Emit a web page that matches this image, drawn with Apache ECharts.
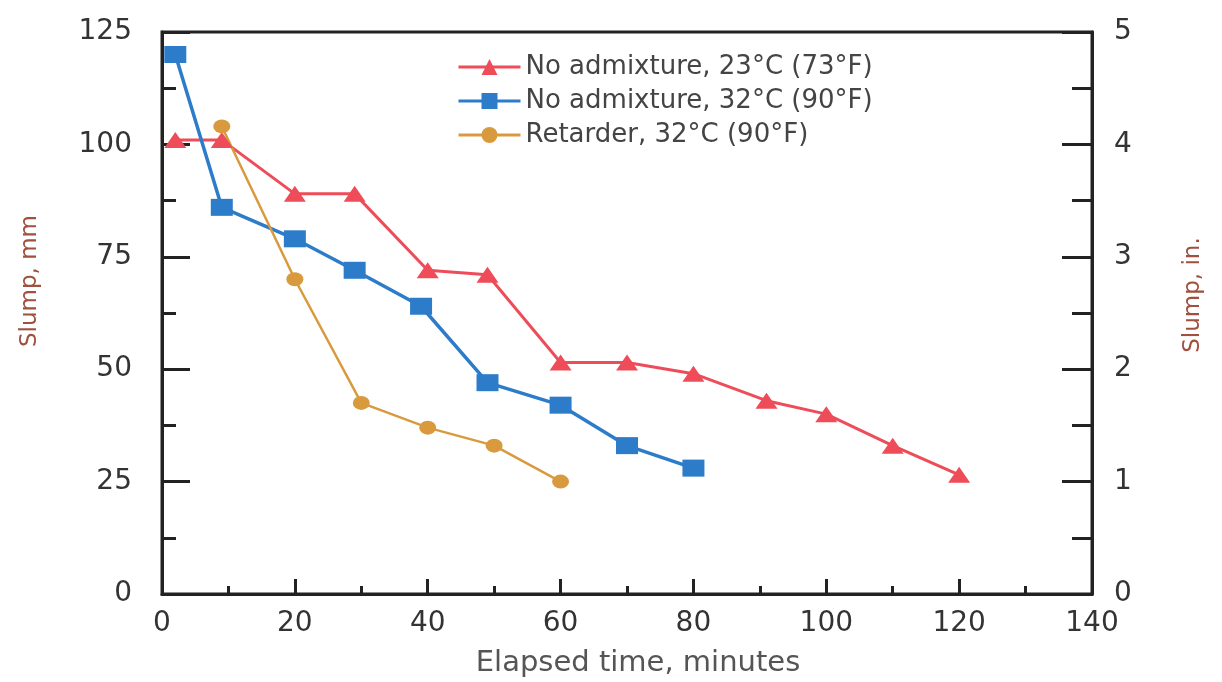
<!DOCTYPE html>
<html>
<head>
<meta charset="utf-8">
<script src="https://cdn.jsdelivr.net/npm/echarts@6/dist/echarts.min.js"></script>
<style>
  html, body { margin: 0; padding: 0; background: #fff; }
  #chart { width: 1222px; height: 682px; }
</style>
</head>
<body>
<div id="chart"></div>
<script>
// elapsed time (min) and slump (mm)
const timeRef23 = [2, 9, 20, 29, 40, 49, 60, 70, 80, 91, 100, 110, 120]
const slumpRef23 = [101, 101, 89, 89, 72, 71, 51.5, 51.5, 49, 43, 40, 33, 26.5]

const timeRef32 = [2, 9, 20, 29, 39, 49, 60, 70, 80]
const slumpRef32 = [120, 86, 79, 72, 64, 47, 42, 33, 28]

const timeRet32 = [9, 20, 30, 40, 50, 60]
const slumpRet32 = [104, 70, 42.5, 37, 33, 25]

const seriesNames = [
    'No admixture, 23°C (73°F)',
    'No admixture, 32°C (90°F)',
    'Retarder, 32°C (90°F)'
]

const zip = (xs, ys) => xs.map((x, i) => [x, ys[i]])

const font = 'DejaVu Sans'
const ink = '#333'
const nameColor = '#a0503e'

const chart = echarts.init(document.getElementById('chart'))

chart.setOption({
    animation: false,
    grid: {
        left: 162,
        right: 130,
        top: 32,
        bottom: 88,
        outerBoundsMode: 'none',
        show: true,
        borderColor: '#222',
        borderWidth: 3
    },
    legend: {
        orient: 'vertical',
        left: 452,
        top: 49,
        itemWidth: 62,
        itemHeight: 20,
        itemGap: 8,
        lineStyle: { width: 3 },
        textStyle: { fontFamily: font, fontSize: 26, color: '#444' },
        data: seriesNames
    },
    xAxis: {
        type: 'value',
        min: 0,
        max: 140,
        interval: 20,
        name: 'Elapsed time, minutes',
        nameLocation: 'middle',
        nameGap: 55,
        nameTextStyle: { fontFamily: font, fontSize: 29, color: '#555', padding: [0, 0, 0, 22] },
        axisLine: { lineStyle: { color: '#222', width: 3 } },
        axisTick: { inside: true, length: 15, lineStyle: { color: '#222', width: 3 } },
        minorTick: { show: true, splitNumber: 2, length: 8, lineStyle: { color: '#222', width: 3 } },
        axisLabel: { fontFamily: font, fontSize: 28, color: ink, margin: 16 },
        splitLine: { show: false }
    },
    yAxis: [
        {
            type: 'value',
            min: 0,
            max: 125,
            interval: 25,
            name: 'Slump, mm',
            nameLocation: 'middle',
            nameGap: 120,
            nameRotate: 90,
            nameTextStyle: { fontFamily: font, fontSize: 23, color: nameColor, padding: [0, 0, 0, 64] },
            axisLine: { show: true, lineStyle: { color: '#222', width: 3 } },
            axisTick: { inside: true, length: 28, lineStyle: { color: '#222', width: 3 } },
            minorTick: { show: true, splitNumber: 2, length: 14, lineStyle: { color: '#222', width: 3 } },
            axisLabel: { fontFamily: font, fontSize: 28, color: ink, margin: 30 },
            splitLine: { show: false }
        },
        {
            type: 'value',
            position: 'right',
            min: 0,
            max: 5,
            interval: 1,
            name: 'Slump, in.',
            nameLocation: 'middle',
            nameGap: 90,
            nameRotate: 90,
            nameTextStyle: { fontFamily: font, fontSize: 23, color: nameColor, padding: [0, 0, 0, 36] },
            axisLine: { show: true, lineStyle: { color: '#222', width: 3 } },
            axisTick: { inside: true, length: 30, lineStyle: { color: '#222', width: 3 } },
            minorTick: { show: true, splitNumber: 2, length: 20, lineStyle: { color: '#222', width: 3 } },
            axisLabel: { fontFamily: font, fontSize: 28, color: ink, margin: 22 },
            splitLine: { show: false }
        }
    ],
    series: [
        {
            name: seriesNames[0],
            type: 'line',
            symbol: 'triangle',
            symbolSize: [22, 16],
            color: '#ee4c58',
            lineStyle: { width: 3 },
            data: zip(timeRef23, slumpRef23)
        },
        {
            name: seriesNames[1],
            type: 'line',
            symbol: 'rect',
            symbolSize: [22, 17],
            color: '#2c7cc9',
            lineStyle: { width: 3.5 },
            data: zip(timeRef32, slumpRef32)
        },
        {
            name: seriesNames[2],
            type: 'line',
            symbol: 'circle',
            symbolSize: [17, 14],
            color: '#d99a3e',
            lineStyle: { width: 2.5 },
            data: zip(timeRet32, slumpRet32)
        }
    ]
})
</script>
</body>
</html>
